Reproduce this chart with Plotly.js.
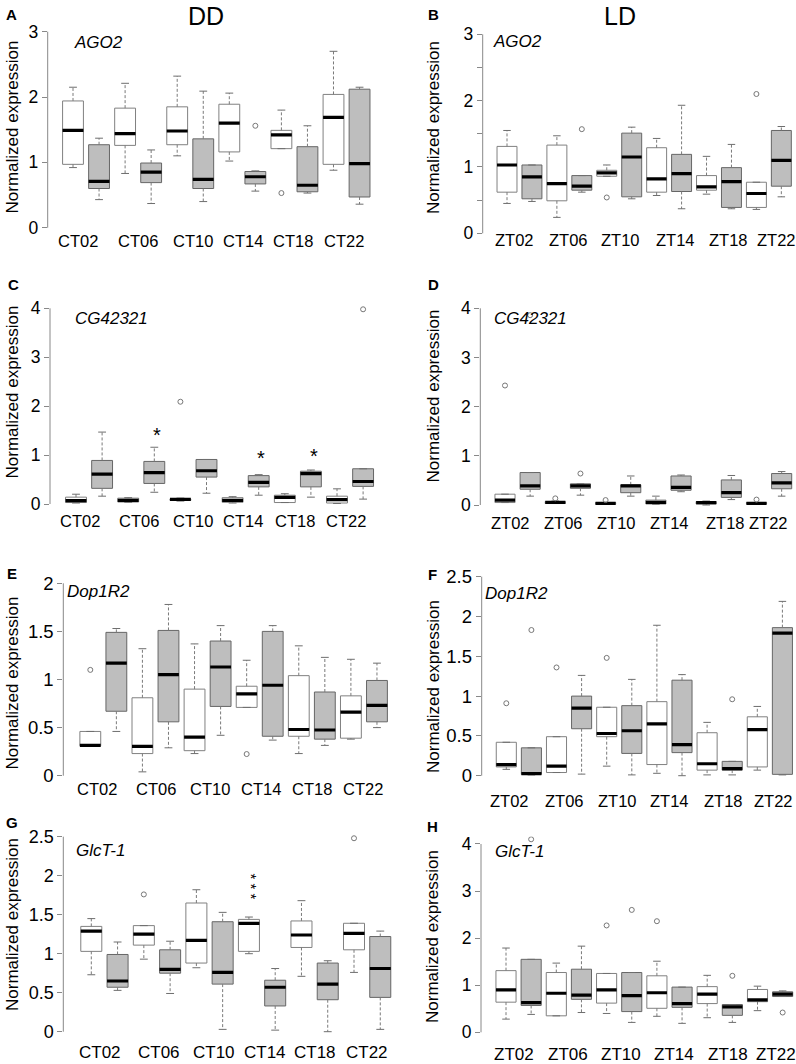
<!DOCTYPE html>
<html><head><meta charset="utf-8">
<script src="https://cdn.plot.ly/plotly-3.0.1.min.js"></script>
<style>html,body{margin:0;padding:0;background:#fff}#chart{width:796px;height:1064px}</style>
</head><body><div id="chart"></div>
<script>
// ---------------- DATA ----------------
const ctLabels = ['CT02','CT06','CT10','CT14','CT18','CT22'];
const ztLabels = ['ZT02','ZT06','ZT10','ZT14','ZT18','ZT22'];
const positions = [1,2,3,4,5,6,7,8,9,10,11,12];

// A: AGO2, DD
const A_lo  = [0.92,0.43,0.83,0.37,1.10,0.40,1.02,0.56,1.21,0.53,0.88,0.36];
const A_q1  = [0.97,0.60,1.26,0.69,1.27,0.60,1.16,0.67,1.21,0.55,0.97,0.47];
const A_med = [1.49,0.71,1.44,0.85,1.48,0.74,1.60,0.78,1.42,0.65,1.69,0.98];
const A_q3  = [1.94,1.27,1.83,0.99,1.85,1.36,1.89,0.86,1.49,1.24,2.04,2.12];
const A_hi  = [2.15,1.37,2.21,1.19,2.32,2.09,2.06,0.87,1.80,1.56,2.70,2.15];
const A_outX = [8,9];
const A_outY = [1.56,0.53];

// B: AGO2, LD
const B_lo  = [0.45,0.48,0.24,0.62,0.86,0.52,0.57,0.37,0.59,0.37,0.36,0.55];
const B_q1  = [0.62,0.52,0.49,0.65,0.86,0.55,0.62,0.63,0.65,0.39,0.39,0.71];
const B_med = [1.03,0.85,0.75,0.71,0.91,1.15,0.82,0.90,0.70,0.78,0.60,1.10];
const B_q3  = [1.31,1.03,1.33,0.87,0.95,1.51,1.29,1.19,0.87,0.99,0.77,1.55];
const B_hi  = [1.55,1.03,1.47,0.87,1.03,1.60,1.43,1.93,1.16,1.34,0.77,1.61];
const B_outX = [4,5,11];
const B_outY = [1.57,0.54,2.10];

// C: CG42321, DD
const C_lo  = [0.02,0.16,0.035,0.24,0.06,0.22,0.02,0.18,0.03,0.14,0.01,0.10];
const C_q1  = [0.03,0.32,0.04,0.42,0.075,0.55,0.035,0.35,0.03,0.35,0.02,0.36];
const C_med = [0.07,0.61,0.075,0.64,0.095,0.68,0.075,0.44,0.135,0.62,0.09,0.46];
const C_q3  = [0.14,0.89,0.12,0.87,0.10,0.91,0.13,0.58,0.18,0.67,0.16,0.72];
const C_hi  = [0.20,1.47,0.13,1.16,0.12,0.91,0.15,0.60,0.21,0.695,0.31,0.72];
const C_outX = [5,12];
const C_outY = [2.09,3.98];
const C_starX = [4.1,8.1,10.1];
const C_starY = [1.50,1.02,1.07];
const C_starN = [1,1,1];

// D: CG42321, LD
const D_lo  = [0.05,0.18,0.03,0.20,0.01,0.18,0.015,0.27,0.0,0.11,0.015,0.18];
const D_q1  = [0.05,0.32,0.03,0.34,0.015,0.25,0.02,0.30,0.02,0.155,0.02,0.33];
const D_med = [0.10,0.39,0.055,0.39,0.035,0.39,0.055,0.36,0.05,0.25,0.035,0.45];
const D_q3  = [0.22,0.66,0.07,0.43,0.05,0.41,0.10,0.59,0.07,0.51,0.05,0.64];
const D_hi  = [0.22,0.66,0.08,0.43,0.05,0.59,0.18,0.61,0.08,0.60,0.05,0.68];
const D_outX = [1,2,3,4,5,11];
const D_outY = [2.43,3.86,0.135,0.64,0.10,0.11];

// E: Dop1R2, DD
const E_lo  = [0.31,0.46,0.04,0.29,0.23,0.42,0.71,0.37,0.23,0.315,0.38,0.50];
const E_q1  = [0.31,0.67,0.23,0.56,0.26,0.72,0.71,0.41,0.41,0.38,0.39,0.56];
const E_med = [0.315,1.17,0.305,1.05,0.40,1.13,0.85,0.94,0.48,0.475,0.66,0.73];
const E_q3  = [0.46,1.49,0.81,1.51,0.90,1.40,0.93,1.50,1.04,0.87,0.83,0.99];
const E_hi  = [0.46,1.53,1.32,1.78,1.37,1.56,1.20,1.56,1.35,1.23,1.21,1.17];
const E_outX = [1,7];
const E_outY = [1.10,0.225];

// F: Dop1R2, LD
const F_lo  = [0.08,0.01,0.04,0.02,0.12,0.01,0.03,0.0,0.01,0.01,0.07,0.01];
const F_q1  = [0.11,0.017,0.04,0.59,0.49,0.28,0.14,0.29,0.07,0.07,0.11,0.017];
const F_med = [0.14,0.025,0.12,0.85,0.53,0.565,0.65,0.39,0.15,0.09,0.58,1.79];
const F_q3  = [0.42,0.35,0.49,1.00,0.86,0.88,0.93,1.20,0.54,0.18,0.74,1.86];
const F_hi  = [0.42,0.35,0.49,1.26,0.86,1.21,1.89,1.27,0.67,0.18,0.87,2.19];
const F_outX = [1,2,3,5,10];
const F_outY = [0.91,1.83,1.36,1.48,0.96];

// G: GlcT-1, DD
const G_lo  = [0.73,0.53,0.93,0.49,0.82,0.03,1.00,0.02,0.71,0.0,0.76,0.03];
const G_q1  = [1.03,0.57,1.11,0.75,0.88,0.61,1.03,0.33,1.08,0.41,1.05,0.44];
const G_med = [1.29,0.65,1.25,0.80,1.17,0.76,1.39,0.57,1.24,0.61,1.26,0.81];
const G_q3  = [1.35,0.99,1.36,1.05,1.65,1.41,1.44,0.66,1.42,0.88,1.39,1.22];
const G_hi  = [1.45,1.15,1.36,1.16,1.82,1.53,1.47,0.81,1.68,0.91,1.39,1.29];
const G_outX = [3,11];
const G_outY = [1.76,2.48];
const G_starX = [7.2];
const G_starY = [1.86];
const G_starN = [3];

// H: GlcT-1, LD
const H_lo  = [0.28,0.38,0.35,0.42,0.40,0.21,0.34,0.19,0.31,0.21,0.46,0.76];
const H_q1  = [0.64,0.57,0.35,0.70,0.62,0.44,0.51,0.53,0.61,0.36,0.65,0.76];
const H_med = [0.90,0.63,0.83,0.79,0.90,0.78,0.84,0.61,0.81,0.54,0.69,0.81];
const H_q3  = [1.31,1.55,1.27,1.34,1.25,1.27,1.20,0.96,0.97,0.59,0.91,0.86];
const H_hi  = [1.79,1.55,1.47,1.83,1.25,1.27,1.51,0.96,1.21,0.59,0.98,0.88];
const H_outX = [2,5,6,7,10,12];
const H_outY = [4.10,2.27,2.60,2.36,1.20,0.42];

// ---------------- LAYOUT CONFIG ----------------
const W = 796, Hh = 1064;
const FONT = 'Liberation Sans, Arial, Helvetica, sans-serif';
const panels = [
 {letter:'A', gene:'AGO2', d:[A_lo,A_q1,A_med,A_q3,A_hi], ox:A_outX, oy:A_outY, labels:ctLabels,
  lp:[1.19,3.48,5.59,7.53,9.46,11.42], axisPx:47.7, box1:73, step:26.05, p0:227.7, pm:31.7, ymax:3, tstep:1, lstep:1,
  title:[12,127.5], genePos:[98,42], letterPos:[11.5,14.5], yfs:17.5, xfs:16.5, xlab:240.7},
 {letter:'B', gene:'AGO2', d:[B_lo,B_q1,B_med,B_q3,B_hi], ox:B_outX, oy:B_outY, labels:ztLabels,
  lp:[1.32,3.48,5.57,7.74,9.88,11.82], axisPx:482.7, box1:507, step:24.94, p0:233.3, pm:34.3, ymax:3, tstep:0.5, lstep:1,
  title:[433,128], genePos:[517.5,41.7], letterPos:[433,14], yfs:17.5, xfs:16.5, xlab:240},
 {letter:'C', gene:'CG42321', d:[C_lo,C_q1,C_med,C_q3,C_hi], ox:C_outX, oy:C_outY,
  sx:C_starX, sy:C_starY, sn:C_starN, labels:ctLabels,
  lp:[1.15,3.43,5.5,7.4,9.4,11.35], axisPx:50, box1:76, step:26.1, p0:504, pm:308.3, ymax:4, tstep:1, lstep:1,
  title:[12,392.5], genePos:[111,318.5], letterPos:[13,284], yfs:17.5, xfs:16.5, xlab:521},
 {letter:'D', gene:'CG42321', d:[D_lo,D_q1,D_med,D_q3,D_hi], ox:D_outX, oy:D_outY, labels:ztLabels,
  lp:[1.2,3.33,5.45,7.56,9.75,11.47], axisPx:480.3, box1:505, step:25.15, p0:505, pm:308.3, ymax:4, tstep:1, lstep:1,
  title:[433,396.5], genePos:[530,318.5], letterPos:[433,284], yfs:17.5, xfs:16.5, xlab:523},
 {letter:'E', gene:'Dop1R2', d:[E_lo,E_q1,E_med,E_q3,E_hi], ox:E_outX, oy:E_outY, labels:ctLabels,
  lp:[1.26,3.52,5.59,7.55,9.5,11.48], axisPx:63.3, box1:90.3, step:26.06, p0:775.7, pm:583.3, ymax:2, tstep:0.5, lstep:0.5,
  title:[12,683.5], genePos:[98.5,591.5], letterPos:[12.5,573], yfs:18.5, xfs:16.5, xlab:789},
 {letter:'F', gene:'Dop1R2', d:[F_lo,F_q1,F_med,F_q3,F_hi], ox:F_outX, oy:F_outY, labels:ztLabels,
  lp:[1.13,3.3,5.42,7.49,9.64,11.66], axisPx:481.7, box1:506.3, step:25.1, p0:775.7, pm:576.7, ymax:2.5, tstep:0.5, lstep:0.5,
  title:[433,687], genePos:[516.7,593], letterPos:[432,574], yfs:18.5, xfs:16.5, xlab:801},
 {letter:'G', gene:'GlcT-1', d:[G_lo,G_q1,G_med,G_q3,G_hi], ox:G_outX, oy:G_outY,
  sx:G_starX, sy:G_starY, sn:G_starN, labels:ctLabels,
  lp:[1.32,3.57,5.66,7.61,9.52,11.48], axisPx:63.3, box1:91.3, step:26.27, p0:1031.7, pm:836.7, ymax:2.5, tstep:0.5, lstep:0.5,
  title:[12,925], genePos:[100.5,850.5], letterPos:[12.5,822], yfs:18, xfs:17, xlab:1052},
 {letter:'H', gene:'GlcT-1', d:[H_lo,H_q1,H_med,H_q3,H_hi], ox:H_outX, oy:H_outY, labels:ztLabels,
  lp:[1.32,3.45,5.56,7.68,9.83,11.74], axisPx:481, box1:506, step:25.15, p0:1032.3, pm:844, ymax:4, tstep:1, lstep:1,
  title:[432,937], genePos:[519,851], letterPos:[432,826], yfs:17.5, xfs:17, xlab:1054}
];

const BOXW = 0.8, STAPLE = 0.15;
const traces = [];
const layout = {
  width: W, height: Hh, margin:{l:0,r:0,t:0,b:0},
  paper_bgcolor:'#fff', plot_bgcolor:'rgba(0,0,0,0)', showlegend:false,
  font:{family:FONT, color:'#000'}, boxmode:'overlay',
  annotations:[], shapes:[]
};

panels.forEach((p, k) => {
  const n = k + 1;
  const xs = n === 1 ? 'x' : 'x' + n;
  const ys = n === 1 ? 'y' : 'y' + n;
  const [lo, q1, med, q3, hi] = p.d;
  const x0 = 1 - (p.box1 - p.axisPx) / p.step;
  const rightPx = Math.min(W, p.box1 + 11.98 * p.step);
  const x1 = 1 + (rightPx - p.box1) / p.step;
  const pad = 0.04 * (p.p0 - p.pm);
  const topPx = p.pm - pad, botPx = p.p0 + pad;
  const tv = [], tt = [];
  for (let v = 0; v <= p.ymax + 1e-9; v += p.tstep) {
    tv.push(+v.toFixed(2));
    const isLab = Math.abs(v / p.lstep - Math.round(v / p.lstep)) < 1e-6;
    tt.push(isLab ? String(+v.toFixed(2)) : '');
  }
  layout['xaxis' + (n === 1 ? '' : n)] = {
    domain:[p.axisPx / W, rightPx / W], range:[x0, x1], anchor: ys,
    showline:false, showgrid:false, zeroline:false, ticks:'', showticklabels:false, fixedrange:true
  };
  layout['yaxis' + (n === 1 ? '' : n)] = {
    domain:[1 - botPx / Hh, 1 - topPx / Hh], range:[-0.04 * p.ymax, 1.04 * p.ymax], anchor: xs,
    showline:false, showgrid:false, zeroline:false,
    ticks:'outside', ticklen:5, tickwidth:1, tickcolor:'#888',
    tickmode:'array', tickvals:tv, ticktext:tt,
    tickfont:{size:p.yfs, family:FONT, color:'#000'}, fixedrange:true
  };
  layout.shapes.push({type:'line', xref: xs + ' domain', x0:0, x1:0, yref: ys, y0:0, y1:p.ymax,
    line:{color:'#888', width:1}});

  // category labels below the boxes
  p.labels.forEach((lab, j) => {
    layout.annotations.push({xref: xs, yref:'paper', x: p.lp[j], y: 1 - p.xlab / Hh, text: lab,
      showarrow:false, xanchor:'center', yanchor:'middle', font:{size:p.xfs, family:FONT, color:'#000'}});
  });

  [[0, '#ffffff', '#808080'], [1, '#bebebe', '#666666']].forEach(([off, fill, lc]) => {
    const idx = positions.map((_, i) => i).filter(i => i % 2 === off);
    traces.push({
      type:'box', xaxis:xs, yaxis:ys,
      x: idx.map(i => positions[i]),
      q1: idx.map(i => q1[i]), median: idx.map(i => med[i]), q3: idx.map(i => q3[i]),
      lowerfence: idx.map(i => q1[i]), upperfence: idx.map(i => q3[i]),
      width: BOXW, whiskerwidth:0, boxpoints:false, fillcolor: fill,
      line:{color:lc, width:1}, hoverinfo:'skip'
    });
  });
  const wx = [], wy = [];
  positions.forEach((x, i) => {
    if (hi[i] > q3[i]) { wx.push(x, x, null); wy.push(q3[i], hi[i], null); }
    if (lo[i] < q1[i]) { wx.push(x, x, null); wy.push(q1[i], lo[i], null); }
  });
  traces.push({type:'scatter', mode:'lines', xaxis:xs, yaxis:ys, x:wx, y:wy,
    line:{color:'#7a7a7a', width:1, dash:'3px,2px'}, hoverinfo:'skip', connectgaps:false});
  const sx = [], sy = [];
  positions.forEach((x, i) => {
    sx.push(x - STAPLE, x + STAPLE, null); sy.push(hi[i], hi[i], null);
    sx.push(x - STAPLE, x + STAPLE, null); sy.push(lo[i], lo[i], null);
  });
  traces.push({type:'scatter', mode:'lines', xaxis:xs, yaxis:ys, x:sx, y:sy,
    line:{color:'#6e6e6e', width:1}, hoverinfo:'skip', connectgaps:false});
  const mx = [], my = [];
  positions.forEach((x, i) => { mx.push(x - BOXW / 2, x + BOXW / 2, null); my.push(med[i], med[i], null); });
  traces.push({type:'scatter', mode:'lines', xaxis:xs, yaxis:ys, x:mx, y:my,
    line:{color:'#000', width:3.2}, hoverinfo:'skip', connectgaps:false});
  traces.push({type:'scatter', mode:'markers', xaxis:xs, yaxis:ys, x:p.ox, y:p.oy,
    marker:{symbol:'circle-open', size:5, color:'#777', line:{width:1}}, hoverinfo:'skip'});
  // significance stars
  if (p.sx) {
    p.sx.forEach((sxv, j) => {
      const nStar = p.sn[j];
      if (nStar === 1) {
        layout.annotations.push({xref:xs, yref:ys, x:sxv, y:p.sy[j], text:'*', showarrow:false,
          xanchor:'center', yanchor:'middle', yshift:-4, font:{size:20, family:FONT, color:'#000'}});
      } else {
        layout.annotations.push({xref:xs, yref:ys, x:sxv, y:p.sy[j], text:Array(nStar).fill('*').join(' '),
          textangle:90, showarrow:false, xanchor:'center', yanchor:'middle', xshift:-3,
          font:{size:15, family:FONT, color:'#000'}});
      }
    });
  }
  layout.annotations.push({xref:'paper', yref:'paper', x:p.title[0] / W, y:1 - p.title[1] / Hh,
    text:'Normalized expression', textangle:-90, showarrow:false, xanchor:'center', yanchor:'middle',
    font:{size:17, family:FONT, color:'#000'}});
  layout.annotations.push({xref:'paper', yref:'paper', x:p.genePos[0] / W, y:1 - p.genePos[1] / Hh,
    text:'<i>' + p.gene + '</i>', showarrow:false, xanchor:'center', yanchor:'middle',
    font:{size:17, family:FONT, color:'#000'}});
  layout.annotations.push({xref:'paper', yref:'paper', x:p.letterPos[0] / W, y:1 - p.letterPos[1] / Hh,
    text:'<b>' + p.letter + '</b>', showarrow:false, xanchor:'center', yanchor:'middle',
    font:{size:15, family:FONT, color:'#000'}});
});

layout.annotations.push({xref:'paper', yref:'paper', x:206 / W, y:1 - 16 / Hh, text:'DD', showarrow:false,
  xanchor:'center', yanchor:'middle', font:{size:25, family:FONT, color:'#000'}});
layout.annotations.push({xref:'paper', yref:'paper', x:620 / W, y:1 - 16 / Hh, text:'LD', showarrow:false,
  xanchor:'center', yanchor:'middle', font:{size:25, family:FONT, color:'#000'}});

Plotly.newPlot('chart', traces, layout, {staticPlot:true, displayModeBar:false});
</script>
</body></html>
